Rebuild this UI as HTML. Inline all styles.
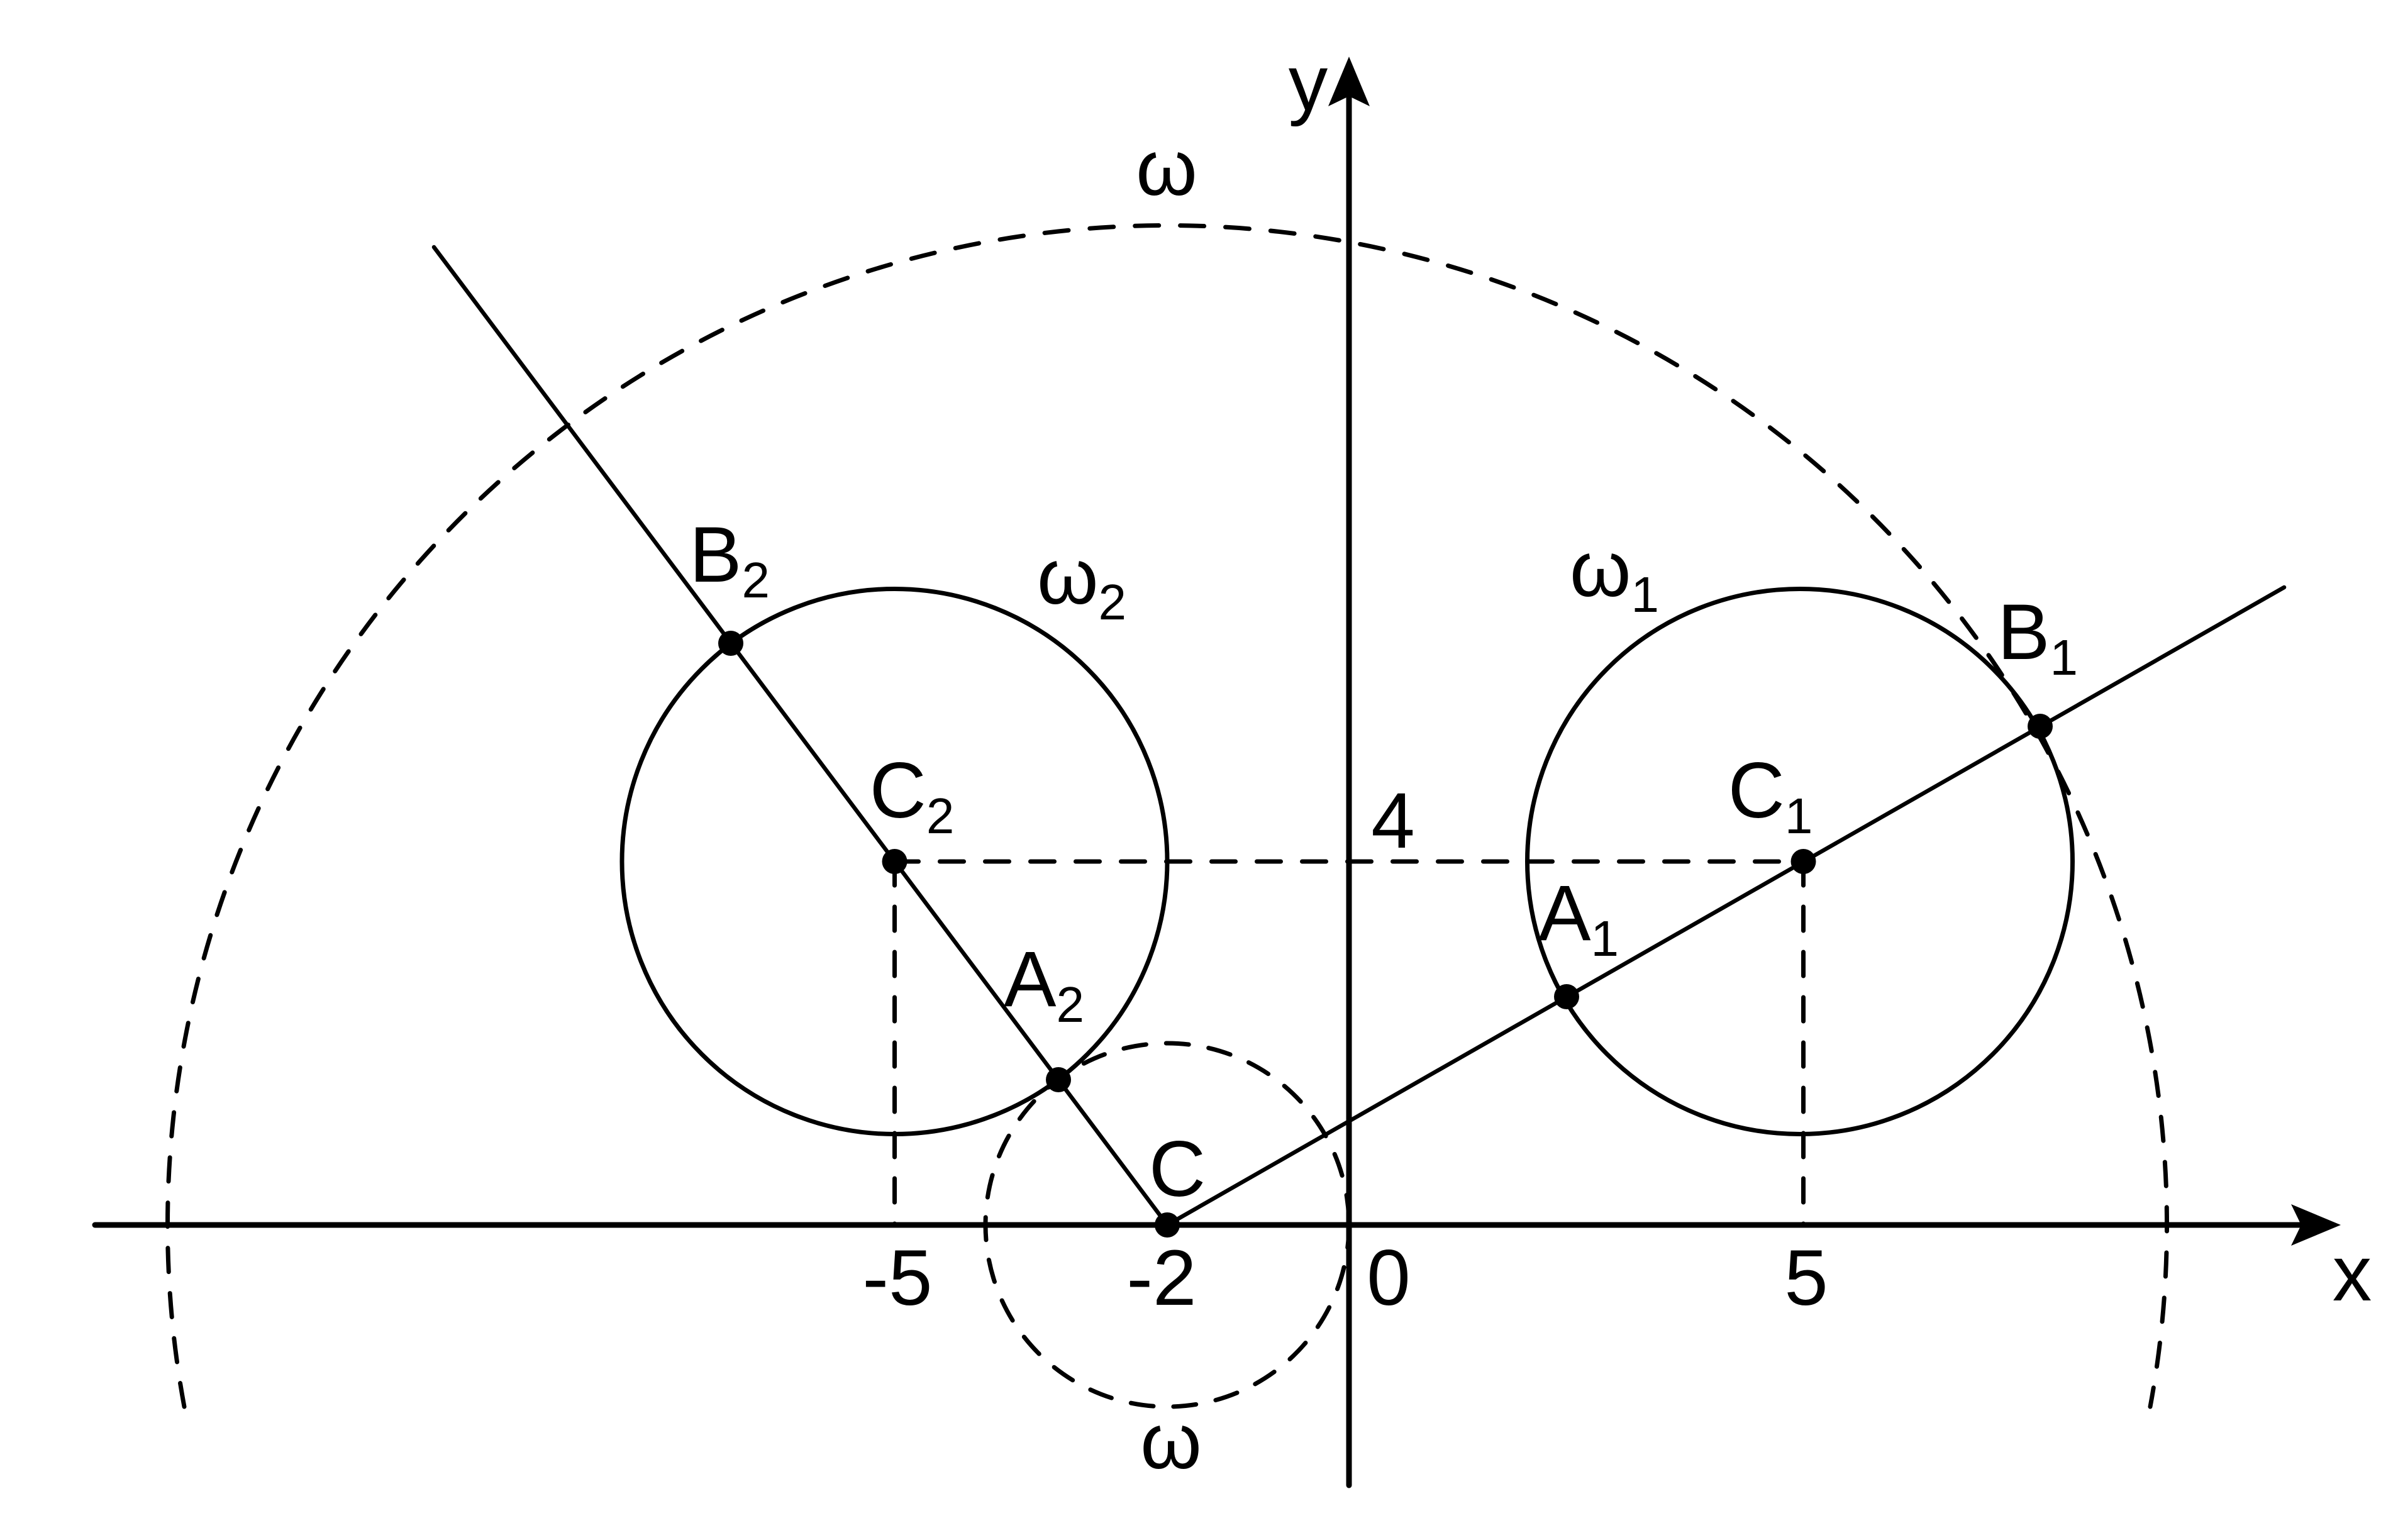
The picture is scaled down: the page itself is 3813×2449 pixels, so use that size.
<!DOCTYPE html>
<html><head><meta charset="utf-8"><style>
html,body{margin:0;padding:0;background:#fff;}
svg{display:block;}
text{font-family:"Liberation Sans","DejaVu Sans",sans-serif;fill:#000;}
</style></head><body>
<svg width="3813" height="2449" viewBox="0 0 3813 2449" xmlns="http://www.w3.org/2000/svg">
<g fill="none" stroke="#000" stroke-linecap="round">
<line x1="151" y1="1948" x2="3690" y2="1948" stroke-width="9"/>
<line x1="2145" y1="2362" x2="2145" y2="130" stroke-width="9"/>
<g stroke-width="7" stroke-dasharray="38 34">
<path d="M293,2237 A1589.5,1589.5 0 1 1 3419,2237"/>
<circle cx="1856" cy="1948" r="289" stroke-dasharray="36 32"/>
<line x1="1422.5" y1="1370" x2="2867.5" y2="1370"/>
<line x1="1422.5" y1="1370" x2="1422.5" y2="1948"/>
<line x1="2867.5" y1="1370" x2="2867.5" y2="1948"/>
</g>
<circle cx="1422.5" cy="1370" r="433.5" stroke-width="7"/>
<circle cx="2862" cy="1370" r="433.5" stroke-width="7"/>
<line x1="1856" y1="1948" x2="3632" y2="934" stroke-width="6.5"/>
<line x1="1856" y1="1948" x2="690" y2="393" stroke-width="6.5"/>
</g>
<polygon points="2145,90 2178,169 2145,153 2112,169" fill="#000"/>
<polygon points="3722,1948 3643,1915 3659,1948 3643,1981" fill="#000"/>
<g fill="#000">
<circle cx="1856" cy="1948" r="20"/>
<circle cx="2867.5" cy="1370" r="20"/>
<circle cx="1422.5" cy="1370" r="20"/>
<circle cx="3244" cy="1155" r="20"/>
<circle cx="2491" cy="1585" r="20"/>
<circle cx="1162" cy="1023" r="20"/>
<circle cx="1683" cy="1717" r="20"/>
</g>
<g font-size="125" text-anchor="middle">
<text x="2080" y="175">y</text>
<text x="3740" y="2068">x</text>
<text x="1855" y="310">ω</text>
<text x="1862" y="2335">ω</text>
<text x="1160" y="925">B<tspan font-size="80" dy="25">2</tspan></text>
<text x="1720" y="960">ω<tspan font-size="80" dy="25">2</tspan></text>
<text x="2567" y="948">ω<tspan font-size="80" dy="25">1</tspan></text>
<text x="3240" y="1048">B<tspan font-size="80" dy="25">1</tspan></text>
<text x="1450" y="1300">C<tspan font-size="80" dy="25">2</tspan></text>
<text x="2215" y="1348">4</text>
<text x="2815" y="1300">C<tspan font-size="80" dy="25">1</tspan></text>
<text x="2510" y="1495">A<tspan font-size="80" dy="25">1</tspan></text>
<text x="1660" y="1600">A<tspan font-size="80" dy="25">2</tspan></text>
<text x="1872" y="1902">C</text>
<text x="1427" y="2075">-5</text>
<text x="1847" y="2075">-2</text>
<text x="2208" y="2075">0</text>
<text x="2872" y="2075">5</text>
</g>
</svg>
</body></html>
